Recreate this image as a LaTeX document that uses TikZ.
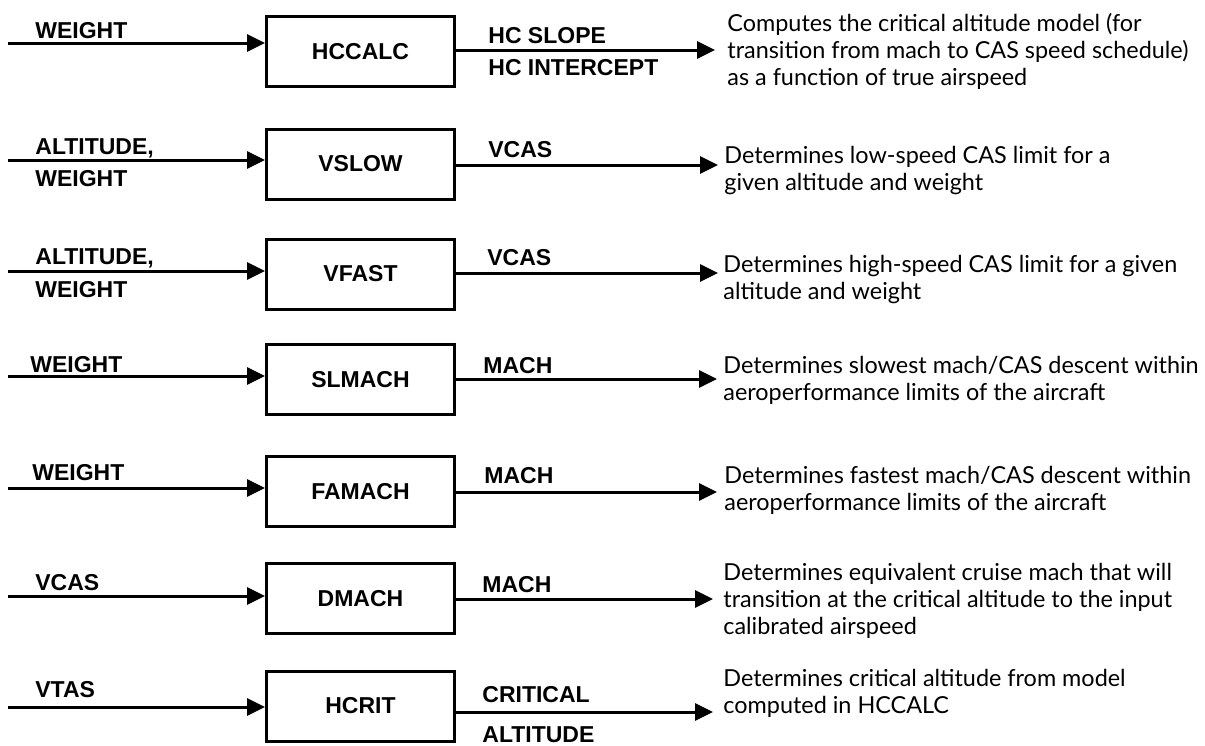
\documentclass[tikz,border=0pt]{standalone}
\usepackage{fontspec}
\setmainfont{Liberation Sans}
\newfontfamily\descfont{Lato}
\usetikzlibrary{arrows.meta}

\begin{document}
\begin{tikzpicture}[x=0.5pt,y=-0.5pt,
  wire/.style={line width=1.5pt,-{Triangle[length=9pt,width=8.5pt]}},
  blk/.style={draw,line width=1.5pt,minimum width=94pt,minimum height=35pt,
    inner sep=0pt,font=\bfseries\fontsize{11.5}{13}\selectfont},
  lbl/.style={anchor=base west,inner sep=0pt,font=\bfseries\fontsize{11.5}{13}\selectfont},
  desc/.style={anchor=west,inner sep=0pt,align=left,
    font=\descfont\fontsize{11.7}{13.5}\selectfont}]

\useasboundingbox (0,0) rectangle (1205,745);

% subroutine blocks
\node[blk] (b1) at (360.5,51.5)  {HCCALC};
\node[blk] (b2) at (360.5,164)   {VSLOW};
\node[blk] (b3) at (360.5,274)   {VFAST};
\node[blk] (b4) at (360.5,379.5) {SLMACH};
\node[blk] (b5) at (360.5,491.5) {FAMACH};
\node[blk] (b6) at (360.5,598.5) {DMACH};
\node[blk] (b7) at (360.5,706)   {HCRIT};

% free ends of the input lines
\coordinate (i1) at (8,43);
\coordinate (i2) at (8,160);
\coordinate (i3) at (8,271);
\coordinate (i4) at (8,376);
\coordinate (i5) at (8,488);
\coordinate (i6) at (8,596);
\coordinate (i7) at (8,707);

% tips of the output arrows
\coordinate (o1) at (715,50);
\coordinate (o2) at (718,165);
\coordinate (o3) at (718,273);
\coordinate (o4) at (717,379);
\coordinate (o5) at (717,492);
\coordinate (o6) at (713,599);
\coordinate (o7) at (713,712);

% input and output connectors of every block
\foreach \k in {1,...,7}{
  \draw[wire] (i\k) -- (i\k -| b\k.west);
  \draw[wire] (o\k -| b\k.east) -- (o\k);
}

% input labels
\node[lbl] (l1)  at (35,38)  {WEIGHT};
\node[lbl] (l2a) at (35,154) {ALTITUDE,};
\node[lbl] (l2b) at (35,186) {WEIGHT};
\node[lbl] (l3a) at (35,264) {ALTITUDE,};
\node[lbl] (l3b) at (35,297) {WEIGHT};
\node[lbl] (l4)  at (30,372) {WEIGHT};
\node[lbl] (l5)  at (32,480) {WEIGHT};
\node[lbl] (l6)  at (35,590) {VCAS};
\node[lbl] (l7)  at (35,697) {VTAS};

% output labels
\node[lbl] (r1a) at (488,43)  {HC SLOPE};
\node[lbl] (r1b) at (488,75)  {HC INTERCEPT};
\node[lbl] (r2)  at (488,157) {VCAS};
\node[lbl] (r3)  at (487,265) {VCAS};
\node[lbl] (r4)  at (483,373) {MACH};
\node[lbl] (r5)  at (484,483) {MACH};
\node[lbl] (r6)  at (482,592) {MACH};
\node[lbl] (r7a) at (482,702) {CRITICAL};
\node[lbl] (r7b) at (482,742) {ALTITUDE};

% descriptions
\node[desc] (d1) at (727,51)  {Computes the critical altitude model (for\\transition from mach to CAS speed schedule)\\as a function of true airspeed};
\node[desc] (d2) at (724,171) {Determines low-speed CAS limit for a\\given altitude and weight};
\node[desc] (d3) at (723,280) {Determines high-speed CAS limit for a given\\altitude and weight};
\node[desc] (d4) at (723,380) {Determines slowest mach/CAS descent within\\aeroperformance limits of the aircraft};
\node[desc] (d5) at (724,490) {Determines fastest mach/CAS descent within\\aeroperformance limits of the aircraft};
\node[desc] (d6) at (723,601) {Determines equivalent cruise mach that will\\transition at the critical altitude to the input\\calibrated airspeed};
\node[desc] (d7) at (723,693) {Determines critical altitude from model\\computed in HCCALC};
\end{tikzpicture}
\end{document}
